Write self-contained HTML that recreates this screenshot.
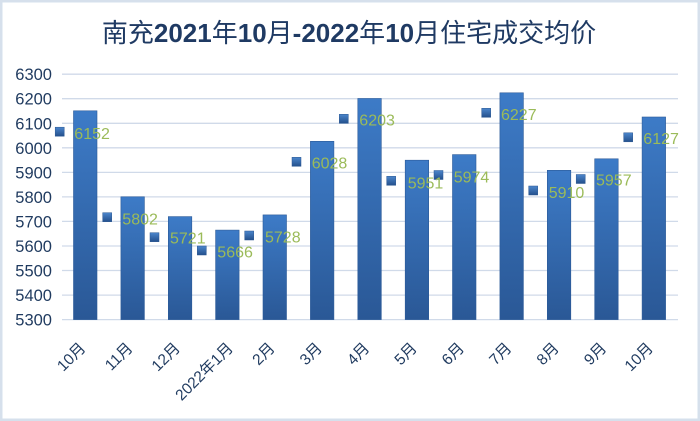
<!DOCTYPE html>
<html>
<head>
<meta charset="utf-8">
<style>
  html,body{margin:0;padding:0;background:#fff;}
  svg{display:block;}
  text{font-family:"Liberation Sans","Noto Sans CJK SC",sans-serif;}
</style>
</head>
<body>
<svg width="700" height="421" viewBox="0 0 700 421" xmlns="http://www.w3.org/2000/svg">
  <defs>
    <linearGradient id="bar" x1="0" y1="0" x2="0" y2="1">
      <stop offset="0" stop-color="#3D7BC7"/>
      <stop offset="1" stop-color="#2A5896"/>
    </linearGradient>
    <linearGradient id="mk" x1="0" y1="0" x2="0" y2="1">
      <stop offset="0" stop-color="#4C86CC"/>
      <stop offset="1" stop-color="#24508C"/>
    </linearGradient>
  </defs>
  <rect x="0" y="0" width="700" height="421" fill="#fff"/>
  <rect x="1.25" y="1.25" width="697.5" height="418.5" fill="none" stroke="#D6E0EC" stroke-width="2.5"/>

  <!-- title -->
  <text x="349" y="42" text-anchor="middle" font-size="26" fill="#1F3A63">南充<tspan font-weight="bold">2021</tspan>年<tspan font-weight="bold">10</tspan>月<tspan font-weight="bold">-2022</tspan>年<tspan font-weight="bold">10</tspan>月住宅成交均价</text>

  <!-- gridlines -->
  <g stroke="#D0DAE9" stroke-width="1.3">
    <line x1="62" x2="678" y1="74.2" y2="74.2"/>
    <line x1="62" x2="678" y1="98.7" y2="98.7"/>
    <line x1="62" x2="678" y1="123.3" y2="123.3"/>
    <line x1="62" x2="678" y1="147.8" y2="147.8"/>
    <line x1="62" x2="678" y1="172.4" y2="172.4"/>
    <line x1="62" x2="678" y1="196.9" y2="196.9"/>
    <line x1="62" x2="678" y1="221.4" y2="221.4"/>
    <line x1="62" x2="678" y1="246.0" y2="246.0"/>
    <line x1="62" x2="678" y1="270.5" y2="270.5"/>
    <line x1="62" x2="678" y1="295.1" y2="295.1"/>
    <line x1="62" x2="678" y1="319.6" y2="319.6"/>
  </g>

  <!-- y labels -->
  <g font-size="16.5" fill="#1F3A5F" text-anchor="end">
    <text x="52" y="80.2">6300</text>
    <text x="52" y="104.7">6200</text>
    <text x="52" y="129.3">6100</text>
    <text x="52" y="153.8">6000</text>
    <text x="52" y="178.4">5900</text>
    <text x="52" y="202.9">5800</text>
    <text x="52" y="227.4">5700</text>
    <text x="52" y="252.0">5600</text>
    <text x="52" y="276.5">5500</text>
    <text x="52" y="301.1">5400</text>
    <text x="52" y="325.6">5300</text>
  </g>

  <!-- bars -->
  <g fill="url(#bar)" stroke="#2C5A98" stroke-width="0.6">
    <rect x="73.5" y="110.8" width="23.5" height="208.8"/>
    <rect x="120.9" y="196.8" width="23.5" height="122.8"/>
    <rect x="168.3" y="216.6" width="23.5" height="103.0"/>
    <rect x="215.6" y="230.1" width="23.5" height="89.5"/>
    <rect x="263.0" y="214.9" width="23.5" height="104.7"/>
    <rect x="310.4" y="141.3" width="23.5" height="178.3"/>
    <rect x="357.8" y="98.5" width="23.5" height="221.1"/>
    <rect x="405.2" y="160.2" width="23.5" height="159.4"/>
    <rect x="452.5" y="154.6" width="23.5" height="165.0"/>
    <rect x="499.9" y="92.8" width="23.5" height="226.8"/>
    <rect x="547.3" y="170.3" width="23.5" height="149.3"/>
    <rect x="594.7" y="158.8" width="23.5" height="160.8"/>
    <rect x="642.1" y="117.0" width="23.5" height="202.6"/>
  </g>

  <!-- markers -->
  <g fill="url(#mk)" stroke="#2A5792" stroke-width="0.5">
    <rect x="55.2" y="127.2" width="9" height="9"/>
    <rect x="102.7" y="212.7" width="9" height="9"/>
    <rect x="150.0" y="232.7" width="9" height="9"/>
    <rect x="197.3" y="246.0" width="9" height="9"/>
    <rect x="244.7" y="231.0" width="9" height="9"/>
    <rect x="292.0" y="157.3" width="9" height="9"/>
    <rect x="339.3" y="114.3" width="9" height="9"/>
    <rect x="386.7" y="176.3" width="9" height="9"/>
    <rect x="434.0" y="170.5" width="9" height="9"/>
    <rect x="481.7" y="108.3" width="9" height="9"/>
    <rect x="528.7" y="186.0" width="9" height="9"/>
    <rect x="576.2" y="174.5" width="9" height="9"/>
    <rect x="623.7" y="132.8" width="9" height="9"/>
  </g>

  <!-- data labels -->
  <g font-size="16" fill="#9BBB59">
    <text x="74.3" y="139.0">6152</text>
    <text x="122.3" y="224.7">5802</text>
    <text x="170.0" y="243.7">5721</text>
    <text x="217.3" y="257.7">5666</text>
    <text x="265.0" y="242.4">5728</text>
    <text x="311.7" y="168.4">6028</text>
    <text x="359.3" y="125.7">6203</text>
    <text x="407.7" y="188.4">5951</text>
    <text x="453.7" y="182.4">5974</text>
    <text x="501.0" y="120.0">6227</text>
    <text x="548.7" y="198.0">5910</text>
    <text x="596.0" y="185.7">5957</text>
    <text x="643.3" y="144.0">6127</text>
  </g>

  <!-- x labels -->
  <g font-size="15.5" fill="#1F3A5F" text-anchor="end">
    <text transform="translate(86.5,349) rotate(-45)">10月</text>
    <text transform="translate(133.6,349) rotate(-45)">11月</text>
    <text transform="translate(181.0,349) rotate(-45)">12月</text>
    <text transform="translate(234.0,349) rotate(-45)">2022年1月</text>
    <text transform="translate(275.7,349) rotate(-45)">2月</text>
    <text transform="translate(323.0,349) rotate(-45)">3月</text>
    <text transform="translate(370.4,349) rotate(-45)">4月</text>
    <text transform="translate(417.8,349) rotate(-45)">5月</text>
    <text transform="translate(465.1,349) rotate(-45)">6月</text>
    <text transform="translate(512.5,349) rotate(-45)">7月</text>
    <text transform="translate(559.9,349) rotate(-45)">8月</text>
    <text transform="translate(607.3,349) rotate(-45)">9月</text>
    <text transform="translate(654.0,349) rotate(-45)">10月</text>
  </g>
</svg>
</body>
</html>
